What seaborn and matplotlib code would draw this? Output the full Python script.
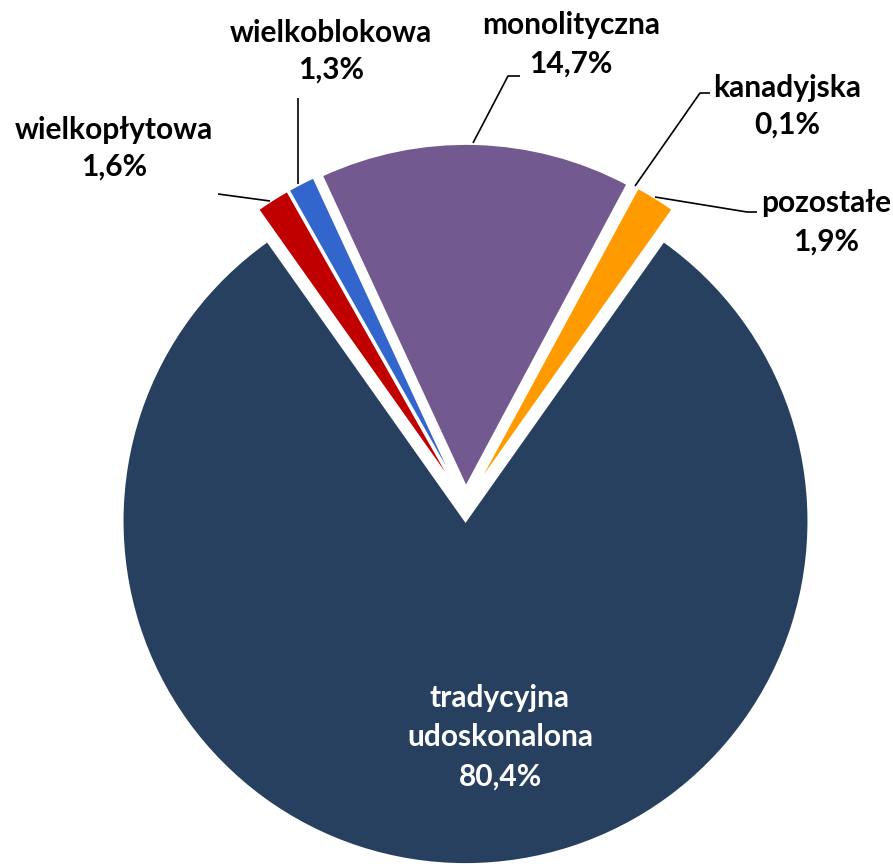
import matplotlib
matplotlib.use("Agg")
import matplotlib.pyplot as plt
import seaborn as sns

# ---- data ----
categories = ["wielkopłytowa", "wielkoblokowa", "monolityczna", "kanadyjska", "pozostałe", "tradycyjna\nudoskonalona"]
shares = [1.6, 1.3, 14.7, 0.1, 1.9, 80.4]
value_labels = ["1,6%", "1,3%", "14,7%", "0,1%", "1,9%", "80,4%"]
colors = ["#C00000", "#3366CC", "#72598F", "#4BACC6", "#FF9B00", "#27405F"]

sns.set_style("white")
plt.rcParams['font.family'] = ['Lato', 'DejaVu Sans']

W, H = 893, 864
fig = plt.figure(figsize=(W / 100, H / 100), dpi=100)
ax = fig.add_axes([0, 0, 1, 1])

cx, cy, R = 465.5, 504.0, 343.0

def px(x, y):
    return ((x - cx) / R, (cy - y) / R)

others = sum(shares) - shares[-1]
start = 90 + others / 2 * 3.6
ax.pie(shares, colors=colors, startangle=start, counterclock=False,
       explode=[0.05] * len(shares), radius=1.0,
       wedgeprops=dict(edgecolor="white", linewidth=1.5))

ax.set_xlim(-cx / R, (W - cx) / R)
ax.set_ylim(-(H - cy) / R, cy / R)
ax.set_aspect('equal', adjustable='box')
ax.axis('off')

fs = 21.5
def label(x, y, s, color="black"):
    ax.text(*px(x, y), s, ha="center", va="center", fontsize=fs,
            fontweight="bold", color=color)

# outside labels: (name line center, value line center)
label(114, 130, categories[0]); label(114, 167, value_labels[0])
label(331, 33, categories[1]); label(331, 70, value_labels[1])
label(571, 25, categories[2]); label(571, 64, value_labels[2])
label(787, 88, categories[3]); label(787, 125, value_labels[3])
label(826, 203, categories[4]); label(826, 242, value_labels[4])
n1, n2 = categories[5].split("\n")
label(500, 698, n1, "white"); label(500, 737, n2, "white"); label(500, 777, value_labels[5], "white")

# leader lines
def leader(points):
    xs, ys = zip(*[px(x, y) for x, y in points])
    ax.plot(xs, ys, color="black", linewidth=1.2, solid_capstyle="butt")

leader([(218, 194), (270, 201)])
leader([(298, 98), (298, 184)])
leader([(520, 76), (508, 76), (473, 143)])
leader([(710, 93), (700, 93), (635, 186)])
leader([(757, 212), (747, 212), (655, 197)])

fig.savefig("out.png", dpi=100)
